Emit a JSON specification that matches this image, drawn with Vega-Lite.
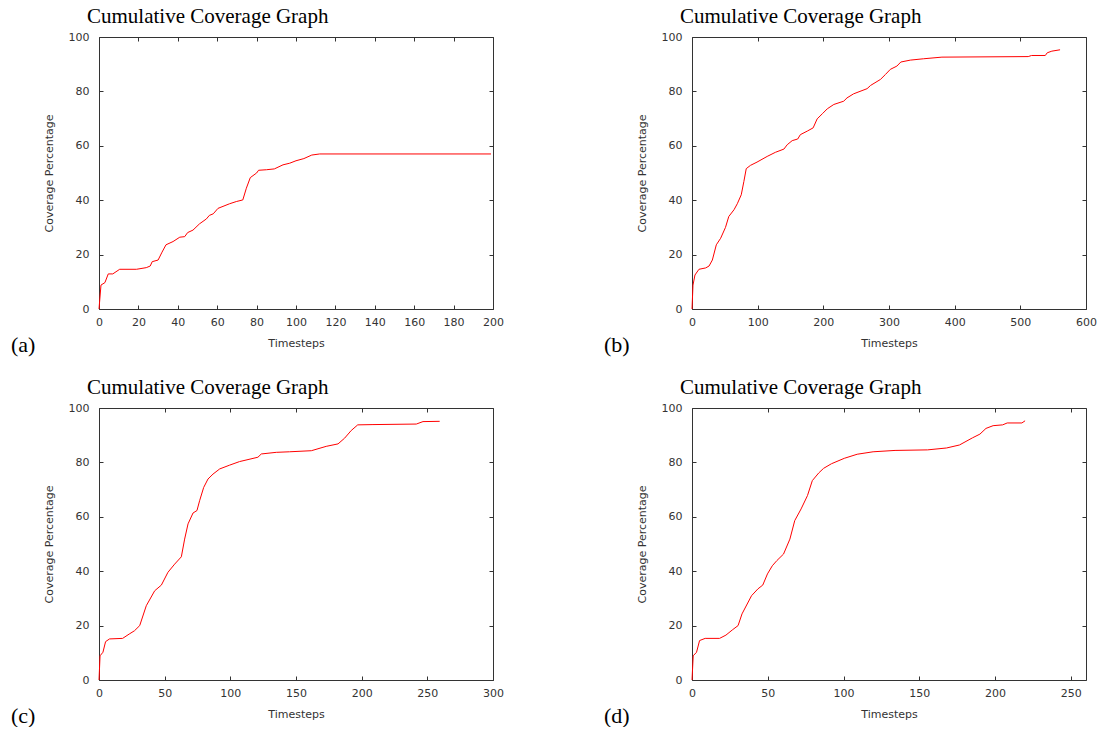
{
  "$schema": "https://vega.github.io/schema/vega-lite/v6.json",
  "background": "white",
  "padding": {"left": 11, "top": 5, "right": 0, "bottom": 0},
  "columns": 2,
  "spacing": {"row": 20, "column": 100},
  "datasets": {
    "a": [{"t":0,"v":0},{"t":1,"v":8.8},{"t":3,"v":9.7},{"t":4.7,"v":12.9},{"t":7,"v":12.9},{"t":10.5,"v":14.6},{"t":19,"v":14.6},{"t":24,"v":15.2},{"t":26,"v":15.8},{"t":27,"v":17.4},{"t":30,"v":18},{"t":32,"v":20.9},{"t":34,"v":23.6},{"t":37.6,"v":24.8},{"t":41,"v":26.4},{"t":43.5,"v":26.6},{"t":45,"v":28.1},{"t":47.7,"v":29},{"t":51,"v":31.3},{"t":54.5,"v":33.1},{"t":56,"v":34.4},{"t":58,"v":35},{"t":60.4,"v":37},{"t":66.3,"v":38.7},{"t":69.7,"v":39.5},{"t":73,"v":40.1},{"t":74.8,"v":44.4},{"t":76.8,"v":48.3},{"t":80,"v":50},{"t":81,"v":51},{"t":85,"v":51.2},{"t":89,"v":51.5},{"t":93.4,"v":53},{"t":96.8,"v":53.6},{"t":100,"v":54.5},{"t":104,"v":55.3},{"t":108,"v":56.6},{"t":112,"v":57},{"t":199,"v":57}],
    "b": [{"t":0,"v":0},{"t":1.5,"v":8.8},{"t":4.5,"v":12.5},{"t":10.6,"v":14.6},{"t":20.8,"v":15.1},{"t":26,"v":15.8},{"t":31,"v":18},{"t":37,"v":23.6},{"t":43.6,"v":26},{"t":51,"v":30},{"t":56,"v":34},{"t":64,"v":36.5},{"t":69,"v":38.7},{"t":75,"v":42},{"t":79,"v":46.9},{"t":82.6,"v":51.6},{"t":89,"v":52.8},{"t":99,"v":54},{"t":114.5,"v":56.1},{"t":127,"v":57.6},{"t":140,"v":58.8},{"t":145,"v":60.4},{"t":152.6,"v":61.9},{"t":161,"v":62.5},{"t":165,"v":64.1},{"t":175.5,"v":65.4},{"t":184.5,"v":66.6},{"t":190.6,"v":69.9},{"t":199,"v":71.9},{"t":206,"v":73.6},{"t":216,"v":75.2},{"t":231,"v":76.4},{"t":236,"v":77.6},{"t":246,"v":79.1},{"t":266.6,"v":81},{"t":272,"v":82.2},{"t":287,"v":84.4},{"t":294.5,"v":86.2},{"t":302,"v":88.1},{"t":312,"v":89.3},{"t":318,"v":90.8},{"t":332.5,"v":91.5},{"t":352.8,"v":92},{"t":380.6,"v":92.6},{"t":512,"v":92.8},{"t":517,"v":93.2},{"t":538,"v":93.2},{"t":541,"v":94.2},{"t":548,"v":94.8},{"t":560.5,"v":95.3}],
    "c": [{"t":0,"v":0},{"t":0.8,"v":8.9},{"t":3,"v":10.2},{"t":5,"v":14.1},{"t":8,"v":15.1},{"t":18,"v":15.3},{"t":23,"v":16.9},{"t":27,"v":18.1},{"t":31,"v":20},{"t":36,"v":27.3},{"t":42.4,"v":32.8},{"t":47.5,"v":34.9},{"t":52.5,"v":39.6},{"t":57.6,"v":42.6},{"t":62.7,"v":45.3},{"t":65.2,"v":51.8},{"t":67.8,"v":57.4},{"t":71.6,"v":61.4},{"t":74.6,"v":62.3},{"t":76.6,"v":65.9},{"t":79.7,"v":70.8},{"t":83,"v":73.9},{"t":86.8,"v":75.7},{"t":91.9,"v":77.6},{"t":99.5,"v":79},{"t":107,"v":80.3},{"t":121,"v":81.9},{"t":123.6,"v":83.1},{"t":135,"v":83.7},{"t":145,"v":83.9},{"t":161.7,"v":84.3},{"t":173,"v":85.9},{"t":182,"v":86.8},{"t":187,"v":88.9},{"t":192,"v":91.7},{"t":197,"v":93.8},{"t":208.6,"v":93.9},{"t":241.6,"v":94.1},{"t":246.7,"v":95},{"t":259.4,"v":95.1}],
    "d": [{"t":0,"v":0},{"t":0.8,"v":8.9},{"t":3,"v":10.2},{"t":5,"v":14.5},{"t":8.7,"v":15.3},{"t":18.2,"v":15.3},{"t":22.4,"v":16.5},{"t":26.6,"v":18.4},{"t":30.4,"v":20},{"t":33,"v":24.3},{"t":39.3,"v":31},{"t":43.5,"v":33.5},{"t":46.7,"v":34.9},{"t":49.8,"v":39},{"t":53,"v":42},{"t":56,"v":43.9},{"t":60.4,"v":46.3},{"t":64.6,"v":51.8},{"t":67.8,"v":58.6},{"t":72,"v":62.9},{"t":76.2,"v":67.8},{"t":79.4,"v":73.3},{"t":83.6,"v":76.1},{"t":86.8,"v":77.8},{"t":92,"v":79.5},{"t":100.5,"v":81.5},{"t":109,"v":83},{"t":119.5,"v":83.9},{"t":134,"v":84.4},{"t":155.4,"v":84.6},{"t":168,"v":85.3},{"t":176.5,"v":86.4},{"t":185,"v":89},{"t":190,"v":90.4},{"t":194,"v":92.5},{"t":198.7,"v":93.5},{"t":205,"v":93.8},{"t":208,"v":94.5},{"t":217.7,"v":94.5},{"t":219.8,"v":95.3}]
  },
  "concat": [
    {
      "title": {"text": "(a)", "orient": "bottom", "fontSize": 22, "dx": -88, "offset": -14},
      "vconcat": [{
        "title": {"text": "Cumulative Coverage Graph", "dx": -12},
        "width": 394, "height": 272,
        "data": {"name": "a"},
        "layer": [
          {"mark": {"type": "line", "color": "#ff0000", "strokeWidth": 1},
           "encoding": {
             "x": {"field": "t", "type": "quantitative", "scale": {"domain": [0, 200]}, "axis": {"title": "Timesteps", "values": [0,20,40,60,80,100,120,140,160,180,200]}},
             "y": {"field": "v", "type": "quantitative", "scale": {"domain": [0, 100]}, "axis": {"title": "Coverage Percentage", "values": [0,20,40,60,80,100]}}
           }},
          {"mark": {"type": "line", "strokeOpacity": 0},
           "encoding": {
             "x": {"field": "t", "type": "quantitative", "axis": {"orient": "top", "labels": false, "title": null, "values": [0,20,40,60,80,100,120,140,160,180,200]}},
             "y": {"field": "v", "type": "quantitative", "axis": {"orient": "right", "labels": false, "title": null, "values": [0,20,40,60,80,100]}}
           }}
        ],
        "resolve": {"axis": {"x": "independent", "y": "independent"}}
      }]
    },
    {
      "title": {"text": "(b)", "orient": "bottom", "fontSize": 22, "dx": -88, "offset": -14},
      "vconcat": [{
        "title": {"text": "Cumulative Coverage Graph", "dx": -12},
        "width": 394, "height": 272,
        "data": {"name": "b"},
        "layer": [
          {"mark": {"type": "line", "color": "#ff0000", "strokeWidth": 1},
           "encoding": {
             "x": {"field": "t", "type": "quantitative", "scale": {"domain": [0, 600]}, "axis": {"title": "Timesteps", "values": [0,100,200,300,400,500,600]}},
             "y": {"field": "v", "type": "quantitative", "scale": {"domain": [0, 100]}, "axis": {"title": "Coverage Percentage", "values": [0,20,40,60,80,100]}}
           }},
          {"mark": {"type": "line", "strokeOpacity": 0},
           "encoding": {
             "x": {"field": "t", "type": "quantitative", "axis": {"orient": "top", "labels": false, "title": null, "values": [0,100,200,300,400,500,600]}},
             "y": {"field": "v", "type": "quantitative", "axis": {"orient": "right", "labels": false, "title": null, "values": [0,20,40,60,80,100]}}
           }}
        ],
        "resolve": {"axis": {"x": "independent", "y": "independent"}}
      }]
    },
    {
      "title": {"text": "(c)", "orient": "bottom", "fontSize": 22, "dx": -88, "offset": -14},
      "vconcat": [{
        "title": {"text": "Cumulative Coverage Graph", "dx": -12},
        "width": 394, "height": 272,
        "data": {"name": "c"},
        "layer": [
          {"mark": {"type": "line", "color": "#ff0000", "strokeWidth": 1},
           "encoding": {
             "x": {"field": "t", "type": "quantitative", "scale": {"domain": [0, 300]}, "axis": {"title": "Timesteps", "values": [0,50,100,150,200,250,300]}},
             "y": {"field": "v", "type": "quantitative", "scale": {"domain": [0, 100]}, "axis": {"title": "Coverage Percentage", "values": [0,20,40,60,80,100]}}
           }},
          {"mark": {"type": "line", "strokeOpacity": 0},
           "encoding": {
             "x": {"field": "t", "type": "quantitative", "axis": {"orient": "top", "labels": false, "title": null, "values": [0,50,100,150,200,250,300]}},
             "y": {"field": "v", "type": "quantitative", "axis": {"orient": "right", "labels": false, "title": null, "values": [0,20,40,60,80,100]}}
           }}
        ],
        "resolve": {"axis": {"x": "independent", "y": "independent"}}
      }]
    },
    {
      "title": {"text": "(d)", "orient": "bottom", "fontSize": 22, "dx": -88, "offset": -14},
      "vconcat": [{
        "title": {"text": "Cumulative Coverage Graph", "dx": -12},
        "width": 394, "height": 272,
        "data": {"name": "d"},
        "layer": [
          {"mark": {"type": "line", "color": "#ff0000", "strokeWidth": 1},
           "encoding": {
             "x": {"field": "t", "type": "quantitative", "scale": {"domain": [0, 250]}, "axis": {"title": "Timesteps", "values": [0,50,100,150,200,250]}},
             "y": {"field": "v", "type": "quantitative", "scale": {"domain": [0, 100]}, "axis": {"title": "Coverage Percentage", "values": [0,20,40,60,80,100]}}
           }},
          {"mark": {"type": "line", "strokeOpacity": 0},
           "encoding": {
             "x": {"field": "t", "type": "quantitative", "axis": {"orient": "top", "labels": false, "title": null, "values": [0,50,100,150,200,250]}},
             "y": {"field": "v", "type": "quantitative", "axis": {"orient": "right", "labels": false, "title": null, "values": [0,20,40,60,80,100]}}
           }}
        ],
        "resolve": {"axis": {"x": "independent", "y": "independent"}}
      }]
    }
  ],
  "config": {
    "view": {"stroke": "#333333", "strokeWidth": 1},
    "axis": {"grid": false, "domain": false, "labelFont": "DejaVu Sans", "labelFontSize": 11, "labelColor": "#333333", "titleFont": "DejaVu Sans", "titleFontSize": 11, "titleFontWeight": "normal", "titleColor": "#333333", "tickColor": "#333333", "tickSize": -4, "labelFlush": false},
    "axisX": {"labelPadding": 11, "titlePadding": 10},
    "axisY": {"labelPadding": 14, "titlePadding": 14},
    "title": {"font": "Liberation Serif", "fontSize": 21, "fontWeight": "normal", "color": "#000000", "anchor": "start", "frame": "group"}
  }
}
